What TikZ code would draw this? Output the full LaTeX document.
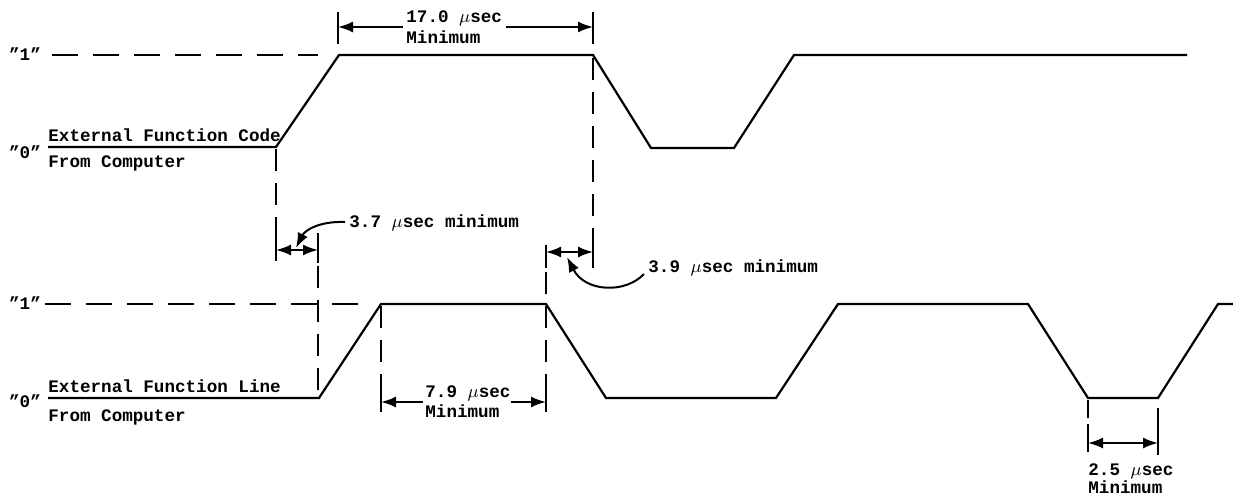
\documentclass[tikz,border=0pt]{standalone}
\usepackage{fontspec}
\setmainfont{Liberation Mono}
\usetikzlibrary{arrows.meta}
\begin{document}
\begin{tikzpicture}[x=0.5pt,y=-0.5pt,
  sig/.style={line width=1.1pt,line join=miter},
  lvl/.style={line width=1pt,dash pattern=on 13pt off 7.5pt},
  vdash/.style={line width=1pt,dash pattern=on 11pt off 6pt},
  tick/.style={line width=1pt},
  dim/.style={line width=1pt,{Latex[length=7.5pt,width=5.5pt]}-{Latex[length=7.5pt,width=5.5pt]}},
  half/.style={line width=1pt,-{Latex[length=7.5pt,width=5.5pt]}},
  lbl/.style={inner sep=0pt,anchor=base west,font=\fontsize{8.8}{10}\selectfont\bfseries},
  lvltxt/.style={inner sep=0pt,font=\fontsize{8.8}{10}\selectfont\bfseries}]
\useasboundingbox (0,0) rectangle (1233,498);

% ---------- top signal ----------
\coordinate (a0) at (48,147);
\coordinate (a1) at (276,147);
\coordinate (a2) at (339,55);
\coordinate (a3) at (593,55);
\coordinate (a4) at (651,148);
\coordinate (a5) at (734,148);
\coordinate (a6) at (794,55);
\coordinate (a7) at (1187,55);
\draw[sig] (a0) -- (a1) -- (a2) -- (a3) -- (a4) -- (a5) -- (a6) -- (a7);
\node[lvltxt] (t1) at (25,54) {\symbol{34}1\symbol{34}};
\node[lvltxt] (t0) at (25,152) {\symbol{34}0\symbol{34}};
\coordinate (d1s) at (52,55);
\coordinate (d1e) at (318,55);
\draw[lvl] (d1s) -- (d1e);
\node[lbl] (efc) at (48,141) {External Function Code};
\node[lbl] (fc1) at (48,167) {From Computer};

% ---------- bottom signal ----------
\coordinate (b0) at (48,398);
\coordinate (b1) at (319,398);
\coordinate (b2) at (381,304);
\coordinate (b3) at (546,304);
\coordinate (b4) at (606,398);
\coordinate (b5) at (776,398);
\coordinate (b6) at (838,304);
\coordinate (b7) at (1028,304);
\coordinate (b8) at (1088,398);
\coordinate (b9) at (1158,398);
\coordinate (b10) at (1218,304);
\coordinate (b11) at (1233,304);
\draw[sig] (b0) -- (b1) -- (b2) -- (b3) -- (b4) -- (b5) -- (b6) -- (b7) -- (b8) -- (b9) -- (b10) -- (b11);
\node[lvltxt] (u1) at (25,303) {\symbol{34}1\symbol{34}};
\node[lvltxt] (u0) at (25,401) {\symbol{34}0\symbol{34}};
\coordinate (d2s) at (45,304);
\coordinate (d2e) at (362,304);
\draw[lvl] (d2s) -- (d2e);
\node[lbl] (efl) at (48,392) {External Function Line};
\node[lbl] (fc2) at (48,421) {From Computer};

% ---------- 17.0 usec ----------
\coordinate (k1t) at (338,12);
\coordinate (k1b) at (338,44);
\coordinate (k2t) at (593,12);
\coordinate (k2b) at (593,44);
\draw[tick] (k1t) -- (k1b);
\draw[tick] (k2t) -- (k2b);
\node[lbl] (m17) at (406,23) {17.0 $\mu$sec};
\node[lbl] (m17b) at (406,43) {Minimum};
\coordinate (k1m) at (338,27);
\coordinate (k2m) at (593,27);
\coordinate (k1l) at (403,27);
\coordinate (k2l) at (506,27);
\draw[half] (k1l) -- (k1m);
\draw[half] (k2l) -- (k2m);

% ---------- vertical dashed guides ----------
\coordinate (v1a) at (276,149);
\coordinate (v1b) at (276,233);
\draw[vdash] (v1a) -- (v1b);
\coordinate (v2a) at (318,266);
\coordinate (v2b) at (318,398);
\draw[vdash] (v2a) -- (v2b);
\coordinate (v3a) at (593,58);
\coordinate (v3b) at (593,245);
\draw[vdash] (v3a) -- (v3b);
\coordinate (v4a) at (546,272);
\coordinate (v4b) at (546,378);
\draw[vdash] (v4a) -- (v4b);
\coordinate (v5a) at (381,306);
\coordinate (v5b) at (381,378);
\draw[vdash] (v5a) -- (v5b);
\coordinate (v6a) at (1088,400);
\coordinate (v6b) at (1088,418);
\draw[vdash] (v6a) -- (v6b);

% ---------- 3.7 usec ----------
\coordinate (p1t) at (276,233);
\coordinate (p1b) at (276,261);
\coordinate (p2t) at (318,233);
\coordinate (p2b) at (318,263);
\draw[tick] (p1t) -- (p1b);
\draw[tick] (p2t) -- (p2b);
\coordinate (p1m) at (276,250);
\coordinate (p2m) at (318,250);
\draw[dim] (p1m) -- (p2m);
\node[lbl] (m37) at (349,227) {3.7 $\mu$sec minimum};
\coordinate (l37s) at (345,222);
\coordinate (l37e) at (296,248);
\draw[half] (l37s) .. controls (320,221) and (305,230) .. (l37e);

% ---------- 3.9 usec ----------
\coordinate (q1t) at (546,245);
\coordinate (q1b) at (546,268);
\coordinate (q2t) at (593,245);
\coordinate (q2b) at (593,268);
\draw[tick] (q1t) -- (q1b);
\draw[tick] (q2t) -- (q2b);
\coordinate (q1m) at (546,252);
\coordinate (q2m) at (593,252);
\draw[dim] (q1m) -- (q2m);
\node[lbl] (m39) at (648,272) {3.9 $\mu$sec minimum};
\coordinate (l39s) at (644,274);
\coordinate (l39e) at (567,257);
\draw[half] (l39s) .. controls (625,294) and (585,292) .. (l39e);

% ---------- 7.9 usec ----------
\coordinate (r1t) at (381,378);
\coordinate (r1b) at (381,412);
\coordinate (r2t) at (546,378);
\coordinate (r2b) at (546,412);
\draw[tick] (r1t) -- (r1b);
\draw[tick] (r2t) -- (r2b);
\node[lbl] (m79) at (425,397) {7.9 $\mu$sec};
\node[lbl] (m79b) at (425,417) {Minimum};
\coordinate (r1m) at (381,402);
\coordinate (r2m) at (546,402);
\coordinate (r1l) at (423,402);
\coordinate (r2l) at (511,402);
\draw[half] (r1l) -- (r1m);
\draw[half] (r2l) -- (r2m);

% ---------- 2.5 usec ----------
\coordinate (s1t) at (1088,424);
\coordinate (s1b) at (1088,452);
\coordinate (s2t) at (1158,408);
\coordinate (s2b) at (1158,455);
\draw[tick] (s1t) -- (s1b);
\draw[tick] (s2t) -- (s2b);
\coordinate (s1m) at (1088,443);
\coordinate (s2m) at (1158,443);
\draw[dim] (s1m) -- (s2m);
\node[lbl] (m25) at (1088,475) {2.5 $\mu$sec};
\node[lbl] (m25b) at (1088,493) {Minimum};
\end{tikzpicture}
\end{document}
